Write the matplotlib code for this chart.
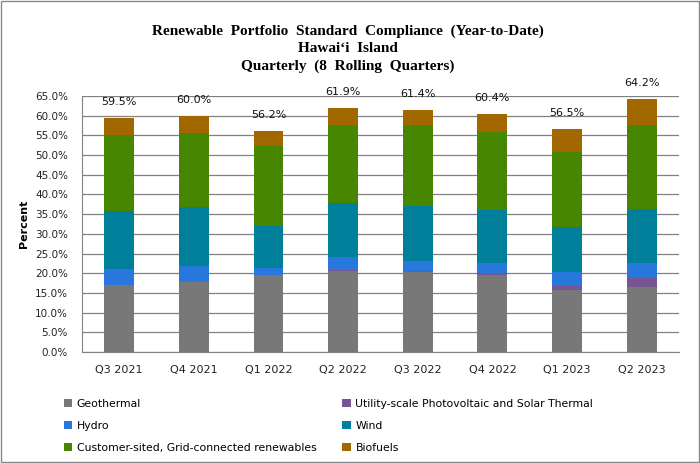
import matplotlib.pyplot as plt
import numpy as np
from matplotlib.patches import Rectangle
from matplotlib.ticker import FuncFormatter, MultipleLocator

quarters = ['Q3 2021', 'Q4 2021', 'Q1 2022', 'Q2 2022', 'Q3 2022', 'Q4 2022', 'Q1 2023', 'Q2 2023']

# percent of sales, stacked bottom to top
geothermal = [16.9, 17.8, 19.5, 20.5, 20.2, 19.5, 15.7, 16.4]
solar = [0.1, 0.1, 0.1, 0.2, 0.3, 0.6, 1.1, 2.5]
hydro = [4.1, 4.0, 1.8, 3.5, 2.7, 2.6, 3.6, 3.8]
wind = [14.7, 14.9, 10.7, 13.6, 13.9, 13.4, 11.4, 13.7]
customer = [19.3, 18.7, 20.3, 19.9, 20.6, 19.8, 19.0, 21.3]
biofuels = [4.4, 4.5, 3.8, 4.2, 3.7, 4.5, 5.7, 6.5]
totals = [59.5, 60.0, 56.2, 61.9, 61.4, 60.4, 56.5, 64.2]

series = [
    ('Geothermal', geothermal, '#787878'),
    ('Utility-scale Photovoltaic and Solar Thermal', solar, '#765591'),
    ('Hydro', hydro, '#2877DD'),
    ('Wind', wind, '#00809B'),
    ('Customer-sited, Grid-connected renewables', customer, '#468600'),
    ('Biofuels', biofuels, '#A36700'),
]

fig = plt.figure(figsize=(7, 4.63), dpi=100)
ax = fig.add_axes([0.117, 0.2397, 0.853, 0.553])

x = np.arange(len(quarters))
bottom = np.zeros(len(quarters))
handles = []
for name, vals, color in series:
    h = ax.bar(x, vals, width=0.4, bottom=bottom, color=color, label=name, zorder=3)
    handles.append(h)
    bottom += np.array(vals)

for xi, tot in zip(x, totals):
    ax.annotate(f'{tot:.1f}%', (xi, tot), xytext=(0, 8), textcoords='offset points',
                ha='center', va='bottom', fontsize=8, color='#111111')

ax.set_xlim(-0.5, len(quarters) - 0.5)
ax.set_ylim(0, 65)
ax.yaxis.set_major_locator(MultipleLocator(5))
ax.yaxis.set_major_formatter(FuncFormatter(lambda v, _: f'{v:.1f}%'))
ax.grid(axis='y', color='#808080', linewidth=0.9, zorder=0)
ax.set_xticks(x, quarters)
ax.tick_params(axis='both', length=0, colors='#222222')
ax.tick_params(axis='y', pad=10, labelsize=7.5)
ax.tick_params(axis='x', pad=9, labelsize=8)
for side in ['top', 'right']:
    ax.spines[side].set_visible(False)
ax.spines['left'].set_color('#808080')
ax.spines['bottom'].set_color('#808080')
ax.set_ylabel('Percent', fontsize=8, fontweight='bold', labelpad=4)

fig.text(0.497, 1 - 25 / 463,
         'Renewable  Portfolio  Standard  Compliance  (Year-to-Date)\n'
         'Hawai\u2018i  Island\nQuarterly  (8  Rolling  Quarters)',
         ha='center', va='top', fontsize=11, fontweight='bold',
         family='Liberation Serif', linespacing=1.4)

# legend fills by column, so reorder to read across rows
order = [0, 2, 4, 1, 3, 5]
fig.legend(handles=[handles[i] for i in order], loc='upper left',
           bbox_to_anchor=(0.077, 1 - 389 / 463),
           ncol=2, frameon=False, fontsize=7.8, handlelength=0.8, handleheight=0.8,
           handletextpad=0.4, columnspacing=2.4, labelspacing=1.1)

fig.add_artist(Rectangle((0.002, 0.002), 0.996, 0.996, transform=fig.transFigure,
                         fill=False, edgecolor='#888888', linewidth=1))

fig.savefig('out.png', dpi=100)
